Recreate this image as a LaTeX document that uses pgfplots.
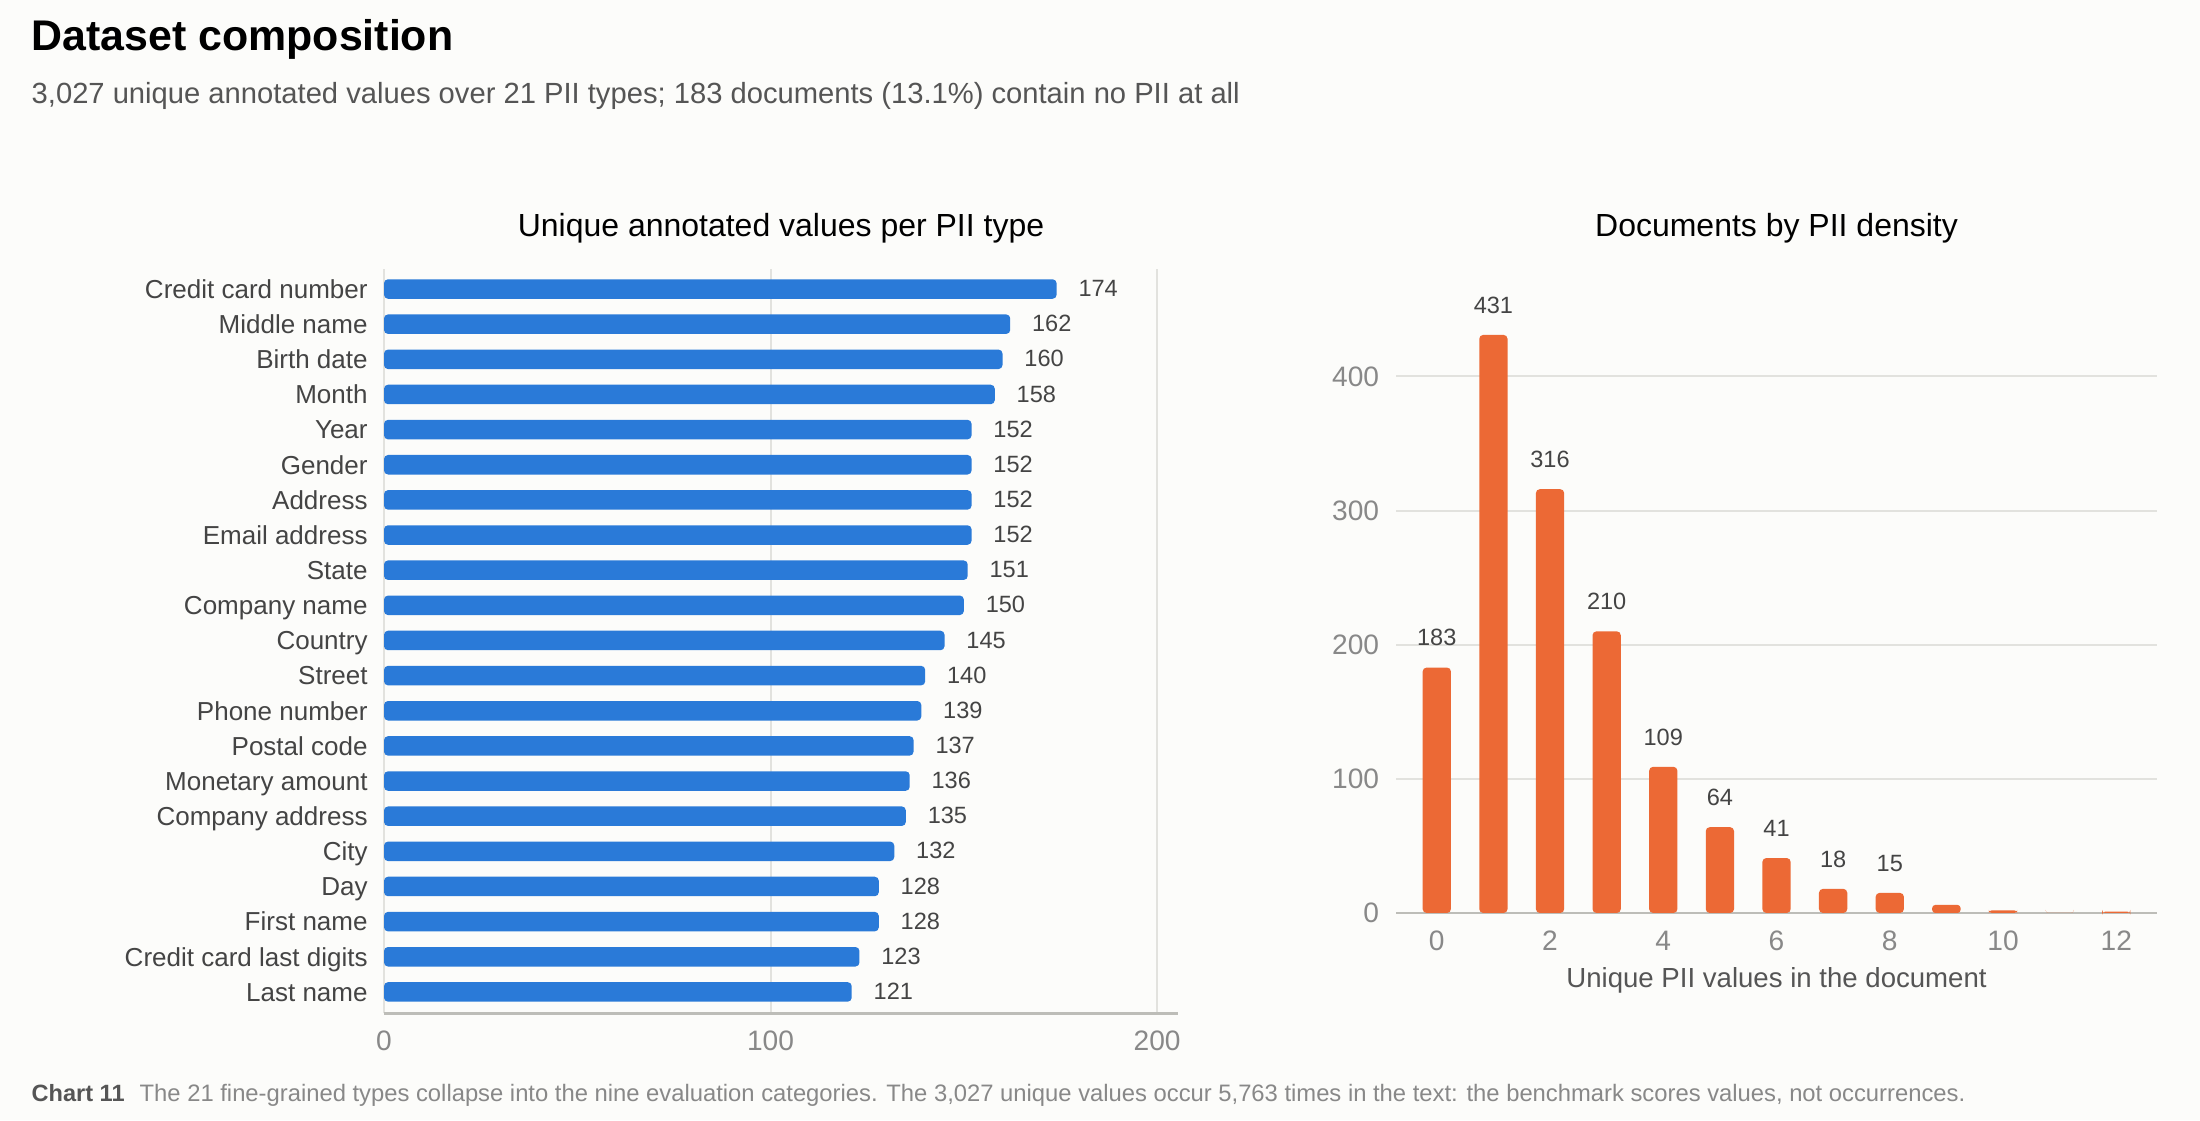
\documentclass[border=0pt]{standalone}
\usepackage{fontspec}
\setmainfont{Liberation Sans}
\usepackage{pgfplots}
\pgfplotsset{compat=1.18}
\pgfplotsset{/pgf/number format/assume math mode=true}
\definecolor{bg}{HTML}{FCFCFA}
\definecolor{barblue}{HTML}{2A7AD8}
\definecolor{barorange}{HTML}{EC6935}
\definecolor{gridc}{HTML}{E2E2DE}
\definecolor{axisc}{HTML}{BDBDB8}
\definecolor{labc}{HTML}{444444}
\definecolor{tickc}{HTML}{888888}
\definecolor{subc}{HTML}{555555}
\newcommand{\fs}[1]{\fontsize{#1}{#1}\selectfont}
\begin{document}
\begin{tikzpicture}
\fill[bg] (0mm,0mm) rectangle (220mm,112mm);
\useasboundingbox (0mm,0mm) rectangle (220mm,112mm);
\node[anchor=base west, inner sep=0pt] at (3.1mm,106.9mm) {\fs{12.2pt}\bfseries Dataset composition};
\node[anchor=base west, inner sep=0pt, text=subc] at (3.1mm,101.6mm) {\fs{8.3pt}3,027 unique annotated values over 21 PII types; 183 documents (13.1\%) contain no PII at all};
\node[anchor=base, inner sep=0pt] at (78.1mm,88.3mm) {\fs{9.1pt}Unique annotated values per PII type};
\node[anchor=base, inner sep=0pt] at (177.65mm,88.3mm) {\fs{9.1pt}Documents by PII density};
\node[anchor=base, inner sep=0pt, text=subc] at (177.65mm,13.2mm) {\fs{7.85pt}Unique PII values in the document};
\node[anchor=base west, inner sep=0pt, text=subc] at (3.1mm,1.9mm) {\fs{6.7pt}\bfseries Chart 11};
\node[anchor=base west, inner sep=0pt, text=tickc] at (13.9mm,1.9mm) {\fs{6.77pt}The 21 fine-grained types collapse into the nine evaluation categories. The 3,027 unique values occur 5,763 times in the text: the benchmark scores values, not occurrences.};

\begin{axis}[
  at={(38.4mm,10.7mm)}, anchor=south west,
  scale only axis, width=79.4mm, height=74.4mm,
  xbar, bar width=0.555,
  xmin=0, xmax=205.4, ymin=-0.6, ymax=20.57,
  ytick={0,...,20},
  yticklabels={Last name, Credit card last digits, First name, Day, City, Company address, Monetary amount, Postal code, Phone number, Street, Country, Company name, State, Email address, Address, Gender, Year, Month, Birth date, Middle name, Credit card number},
  xtick={0,100,200},
  xmajorgrids, grid style={gridc, line width=0.2mm},
  axis line style={draw=none},
  major tick length=0pt, tick style={draw=none},
  yticklabel style={font=\fs{7.4pt}, text=labc, xshift=-0.4mm, text height=5.3pt, text depth=0pt},
  xticklabel style={font=\fs{8pt}, text=tickc, yshift=-0.55mm},
  point meta=x,
  nodes near coords,
  every node near coord/.append style={font=\fs{6.7pt}, text=labc, anchor=west, xshift=0.95mm, yshift=0.08mm, text height=4.8pt, text depth=0pt},
  clip=false,
]
\draw[axisc, line width=0.3mm] (axis cs:0,-0.6) -- (axis cs:205.4,-0.6);
\addplot[fill=barblue, draw=none, rounded corners=0.4mm] coordinates {
(121,0) (123,1) (128,2) (128,3) (132,4) (135,5) (136,6) (137,7) (139,8) (140,9)
(145,10) (150,11) (151,12) (152,13) (152,14) (152,15) (152,16) (158,17) (160,18) (162,19) (174,20)};
\end{axis}

\begin{axis}[
  at={(139.6mm,20.7mm)}, anchor=south west,
  scale only axis, width=76.1mm, height=61.7mm,
  ybar, bar width=0.5,
  xmin=-0.72, xmax=12.72, ymin=0, ymax=460,
  xtick={0,2,...,12}, ytick={0,100,...,400},
  ymajorgrids, grid style={gridc, line width=0.2mm},
  axis line style={draw=none},
  major tick length=0pt, tick style={draw=none},
  yticklabel style={font=\fs{8pt}, text=tickc, xshift=-0.45mm},
  xticklabel style={font=\fs{8pt}, text=tickc, yshift=-0.55mm},
  clip=false,
]
\draw[axisc, line width=0.28mm] (axis cs:-0.72,0) -- (axis cs:12.72,0);
\addplot[fill=barorange, draw=none, bar shift=0pt, rounded corners=0.4mm,
  nodes near coords, point meta=y,
  every node near coord/.append style={font=\fs{6.7pt}, text=labc, anchor=south, yshift=0.9mm}] coordinates {
(0,183) (1,431) (2,316) (3,210) (4,109) (5,64) (6,41) (7,18) (8,15)};
\addplot[fill=barorange, draw=none, bar shift=0pt, rounded corners=0.3mm] coordinates {
(9,6) (10,2) (11,0) (12,1)};
\end{axis}
\end{tikzpicture}
\end{document}
